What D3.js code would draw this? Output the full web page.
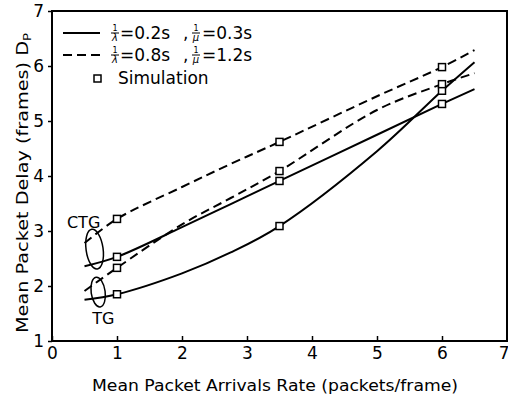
<!DOCTYPE html>
<html lang="en">
    <head>
        <meta charset="UTF-8">
        <title>Mean Packet Delay</title>
        <script src="https://d3js.org/d3.v7.min.js"></script>
        <style>
            html, body {
                margin: 0;
                background-color: white;
            }
            svg text {
                font-family: "DejaVu Sans", sans-serif;
                fill: black;
            }
        </style>
    </head>
    <body>
        <div id="chart"></div>
        <script>

            // model curves
            const curveX = [0.5, 1, 2, 2.75, 3.5, 5, 6, 6.5];
            const tgFast = [1.75, 1.85, 2.23, 2.61, 3.09, 4.45, 5.55, 6.07];
            const ctgFast = [2.36, 2.53, 3.07, 3.49, 3.91, 4.75, 5.31, 5.58];
            const tgSlow = [1.91, 2.33, 3.12, 3.6, 4.09, 5.2, 5.67, 5.87];
            const ctgSlow = [2.78, 3.22, 3.80, 4.22, 4.62, 5.45, 5.98, 6.29];

            // simulation points
            const simX = [1, 3.5, 6];
            const simTgFast = [1.85, 3.09, 5.55];
            const simCtgFast = [2.53, 3.91, 5.31];
            const simTgSlow = [2.33, 4.09, 5.67];
            const simCtgSlow = [3.22, 4.62, 5.98];

            const xTicks = [0, 1, 2, 3, 4, 5, 6, 7];
            const yTicks = [1, 2, 3, 4, 5, 6, 7];

            const width = 508;
            const height = 400;

            const x = d3.scaleLinear().domain([0, 7]).range([52, 507]);
            const y = d3.scaleLinear().domain([1, 7]).range([341, 11]);

            const svg = d3.select("#chart")
                .append("svg")
                .attr("width", width)
                .attr("height", height);

            // axes
            const xAxis = svg.append("g")
                .attr("transform", `translate(0,${y(1)})`)
                .call(d3.axisBottom(x).tickValues(xTicks).tickFormat(d3.format("d"))
                    .tickSizeInner(-5).tickSizeOuter(0));
            xAxis.select(".domain").remove();
            xAxis.selectAll("line").attr("stroke-width", 1.5);
            xAxis.selectAll("text").attr("font-size", 17).attr("dy", "0.71em").attr("y", 6);
            // last label sits on the right edge, keep it inside the picture
            xAxis.selectAll("text").filter(d => d === 7).attr("text-anchor", "end").attr("x", 2);

            const yAxis = svg.append("g")
                .attr("transform", `translate(${x(0)},0)`)
                .call(d3.axisLeft(y).tickValues(yTicks).tickFormat(d3.format("d"))
                    .tickSizeInner(4).tickSizeOuter(0).tickPadding(4));
            yAxis.select(".domain").remove();
            yAxis.selectAll("line").attr("stroke-width", 1.5);
            yAxis.selectAll("text").attr("font-size", 17);

            // frame
            svg.append("rect")
                .attr("x", x(0))
                .attr("y", y(7))
                .attr("width", x(7) - x(0))
                .attr("height", y(1) - y(7))
                .attr("fill", "none")
                .attr("stroke", "black")
                .attr("stroke-width", 2);

            // curves
            const line = d3.line()
                .x(d => x(d[0]))
                .y(d => y(d[1]))
                .curve(d3.curveCatmullRom);

            const series = [
                { vals: tgFast, sim: simTgFast, dash: null },
                { vals: ctgFast, sim: simCtgFast, dash: null },
                { vals: tgSlow, sim: simTgSlow, dash: "9,5" },
                { vals: ctgSlow, sim: simCtgSlow, dash: "9,5" }
            ];

            series.forEach(s => {
                svg.append("path")
                    .datum(curveX.map((v, i) => [v, s.vals[i]]))
                    .attr("d", line)
                    .attr("fill", "none")
                    .attr("stroke", "black")
                    .attr("stroke-width", 2)
                    .attr("stroke-dasharray", s.dash);
            });

            series.forEach(s => {
                svg.selectAll(null)
                    .data(simX.map((v, i) => [v, s.sim[i]]))
                    .enter().append("rect")
                    .attr("x", d => x(d[0]) - 3.5)
                    .attr("y", d => y(d[1]) - 3.5)
                    .attr("width", 7)
                    .attr("height", 7)
                    .attr("fill", "white")
                    .attr("stroke", "black")
                    .attr("stroke-width", 1.5);
            });

            // CTG / TG groupings
            const ellipses = [
                { cx: 0.655, cy: 2.67, rx: 8.5, ry: 20 },
                { cx: 0.71, cy: 1.89, rx: 7, ry: 15 }
            ];
            ellipses.forEach(e => {
                svg.append("ellipse")
                    .attr("transform", `translate(${x(e.cx)},${y(e.cy)}) rotate(-8)`)
                    .attr("rx", e.rx)
                    .attr("ry", e.ry)
                    .attr("fill", "none")
                    .attr("stroke", "black")
                    .attr("stroke-width", 1.5);
            });

            svg.append("text")
                .attr("x", x(0.23))
                .attr("y", y(3.05))
                .attr("font-size", 16)
                .text("CTG");

            svg.append("text")
                .attr("x", x(0.62))
                .attr("y", y(1.31))
                .attr("font-size", 16)
                .text("TG");

            // axis titles
            svg.append("text")
                .attr("x", 92)
                .attr("y", 391)
                .attr("font-size", 16)
                .attr("textLength", 366)
                .attr("lengthAdjust", "spacingAndGlyphs")
                .text("Mean Packet Arrivals Rate (packets/frame)");

            const yTitle = svg.append("text")
                .attr("transform", "translate(28,333) rotate(-90)")
                .attr("font-size", 16)
                .attr("textLength", 300)
                .attr("lengthAdjust", "spacingAndGlyphs");
            yTitle.append("tspan").text("Mean Packet Delay (frames) D");
            yTitle.append("tspan").attr("font-size", 11).attr("dy", 3).text("P");

            // legend
            const legend = svg.append("g");

            const fraction = (g, cx, baseY, sym) => {
                g.append("text").attr("x", cx).attr("y", baseY - 7).attr("font-size", 8)
                    .attr("text-anchor", "middle").text("1");
                g.append("line").attr("x1", cx - 4).attr("x2", cx + 4)
                    .attr("y1", baseY - 5).attr("y2", baseY - 5)
                    .attr("stroke", "black").attr("stroke-width", 1);
                g.append("text").attr("x", cx).attr("y", baseY + 3).attr("font-size", 10)
                    .attr("font-style", "italic").attr("text-anchor", "middle").text(sym);
            };

            const legendRows = [
                { y: 33, dash: null, a: "=0.2s", b: "=0.3s" },
                { y: 55, dash: "9,5", a: "=0.8s", b: "=1.2s" }
            ];
            legendRows.forEach(r => {
                legend.append("line")
                    .attr("x1", 63).attr("x2", 100)
                    .attr("y1", r.y).attr("y2", r.y)
                    .attr("stroke", "black").attr("stroke-width", 2)
                    .attr("stroke-dasharray", r.dash);
                fraction(legend, 115, r.y + 5, "λ");
                legend.append("text").attr("x", 120).attr("y", r.y + 6).attr("font-size", 17).text(r.a);
                legend.append("text").attr("x", 183).attr("y", r.y + 6).attr("font-size", 17).text(",");
                fraction(legend, 196, r.y + 5, "μ");
                legend.append("text").attr("x", 202).attr("y", r.y + 6).attr("font-size", 17).text(r.b);
            });

            legend.append("rect")
                .attr("x", 94).attr("y", 75).attr("width", 7).attr("height", 7)
                .attr("fill", "white").attr("stroke", "black").attr("stroke-width", 1.5);
            legend.append("text").attr("x", 118).attr("y", 84).attr("font-size", 17).text("Simulation");

        </script>
    </body>
</html>
